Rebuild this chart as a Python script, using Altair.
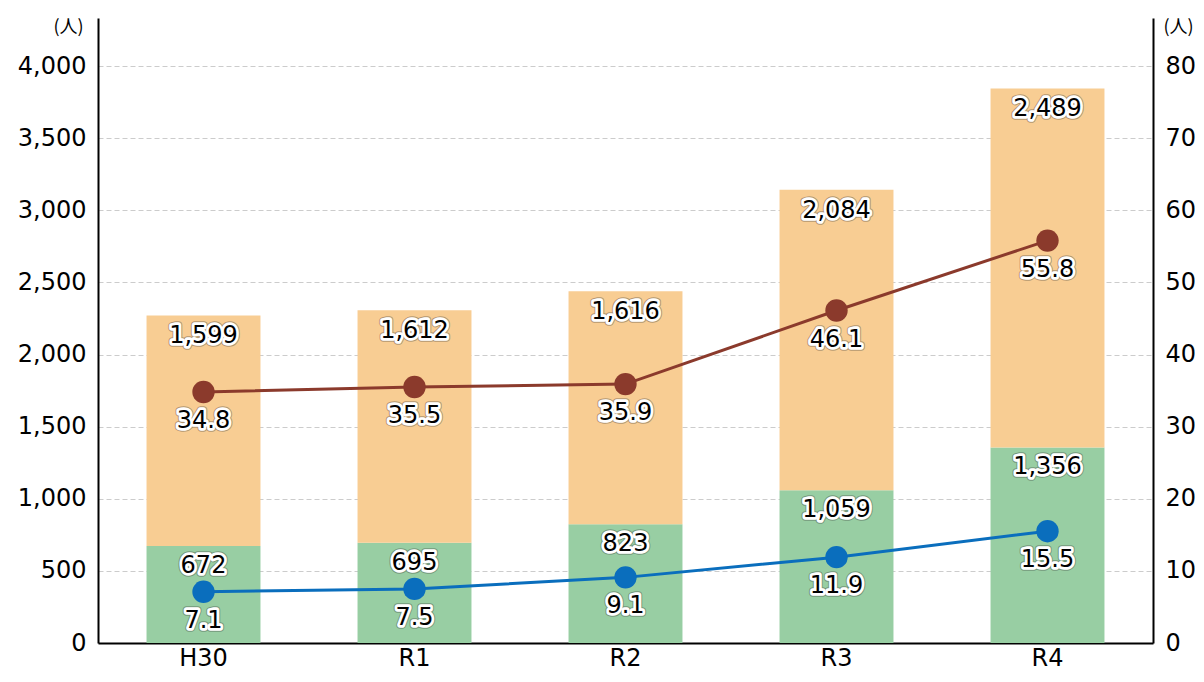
import altair as alt
import pandas as pd

years = ["H30", "R1", "R2", "R3", "R4"]
green_vals = [672, 695, 823, 1059, 1356]
orange_vals = [1599, 1612, 1616, 2084, 2489]
brown_vals = [34.8, 35.5, 35.9, 46.1, 55.8]
blue_vals = [7.1, 7.5, 9.1, 11.9, 15.5]
left_ticks = [0, 500, 1000, 1500, 2000, 2500, 3000, 3500, 4000]
right_ticks = [0, 10, 20, 30, 40, 50, 60, 70, 80]

df = pd.DataFrame({
    "year": years,
    "green": green_vals,
    "orange": orange_vals,
    "brown": brown_vals,
    "blue": blue_vals,
})
df["total"] = df["green"] + df["orange"]

GREEN = "#98CEA3"
ORANGE = "#F8CD93"
BROWN = "#8B3A2C"
BLUE = "#0A6EBD"
FONT = "DejaVu Sans"
CJK = "Noto Sans CJK JP"
FS = 24

x = alt.X("year:N", sort=years,
          scale=alt.Scale(paddingInner=0.46, paddingOuter=0.23),
          axis=alt.Axis(title=None, labelAngle=0, ticks=False, domainColor="black",
                        domainWidth=2, labelFontSize=FS, labelFont=FONT,
                        labelColor="black", labelPadding=3))

yL_scale = alt.Scale(domain=[0, 4333], nice=False)
yR_scale = alt.Scale(domain=[0, 86.66], nice=False)

axL = alt.Axis(values=left_ticks, labelExpr="format(datum.value, ',')", ticks=False,
               domainColor="black", domainWidth=2, labelFontSize=FS, labelFont=FONT,
               labelColor="black", labelPadding=12, grid=True, gridDash=[5, 3],
               gridColor="#cccccc", gridWidth=1, title="(人)", titleAngle=0,
               titleX=-30, titleY=9, titleAlign="center", titleBaseline="middle",
               titleFontSize=18, titleFontWeight="normal", titleFont=CJK,
               titleColor="black")
axR = alt.Axis(values=right_ticks, labelExpr="format(datum.value, 'd')", orient="right",
               ticks=False, domainColor="black", domainWidth=2, labelFontSize=FS,
               labelFont=FONT, labelColor="black", labelPadding=12, grid=False,
               title="(人)", titleAngle=0, titleX=25, titleY=9, titleAlign="center",
               titleBaseline="middle", titleFontSize=18, titleFontWeight="normal",
               titleFont=CJK, titleColor="black")

base = alt.Chart(df)

green_bar = base.mark_bar(color=GREEN).encode(
    x=x, y=alt.Y("green:Q", scale=yL_scale, axis=axL))
orange_bar = base.mark_bar(color=ORANGE).encode(
    x=x, y=alt.Y("green:Q", scale=yL_scale, axis=axL), y2="total:Q")


def labels(pos_field, text_field, scale, axis, fmt, dy):
    enc = dict(x=x, y=alt.Y(f"{pos_field}:Q", scale=scale, axis=axis),
               text=alt.Text(f"{text_field}:Q", format=fmt))
    outline = base.mark_text(dy=dy, fontSize=FS, font=FONT, color="#333333",
                             stroke="#333333", strokeWidth=7.5, strokeOpacity=0.6,
                             opacity=0.6, strokeJoin="round",
                             baseline="middle").encode(**enc)
    halo = base.mark_text(dy=dy, fontSize=FS, font=FONT, color="white", stroke="white",
                          strokeWidth=5.5, strokeJoin="round",
                          baseline="middle").encode(**enc)
    txt = base.mark_text(dy=dy, fontSize=FS, font=FONT, color="black",
                         baseline="middle").encode(**enc)
    return [outline, halo, txt]


left = alt.layer(green_bar, orange_bar,
                 *labels("total", "orange", yL_scale, axL, ",", 21),
                 *labels("green", "green", yL_scale, axL, ",", 20))


def series(field, color):
    line = base.mark_line(color=color, strokeWidth=3).encode(
        x=x, y=alt.Y(f"{field}:Q", scale=yR_scale, axis=axR))
    pts = base.mark_circle(color=color, size=500, opacity=1).encode(
        x=x, y=alt.Y(f"{field}:Q", scale=yR_scale, axis=axR))
    return [line, pts]


right = alt.layer(*series("brown", BROWN), *series("blue", BLUE),
                  *labels("brown", "brown", yR_scale, axR, ".1f", 29),
                  *labels("blue", "blue", yR_scale, axR, ".1f", 29))

chart = alt.layer(left, right).resolve_scale(y="independent").properties(
    width=1055, height=625,
    padding={"left": 90, "top": 10, "right": 42, "bottom": 31},
    autosize=alt.AutoSizeParams(type="none"),
).configure_view(stroke=None)

chart.save("out.html", embed_options={"renderer": "svg", "actions": False})
